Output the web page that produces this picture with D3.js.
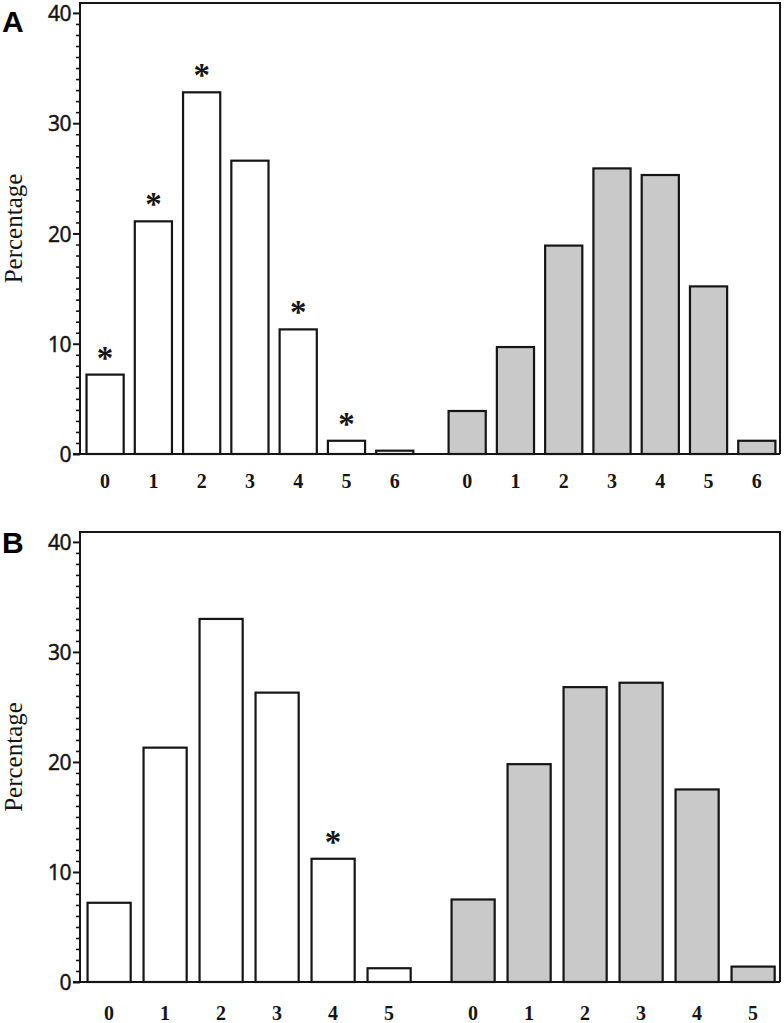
<!DOCTYPE html>
<html>
<head>
<meta charset="utf-8">
<script src="https://cdn.jsdelivr.net/npm/d3@7"></script>
<style>
  html, body { margin: 0; padding: 0; background: #fff; }
  svg { display: block; }
</style>
</head>
<body>
<svg id="chart" width="784" height="1023"></svg>
<script>
// ---------- DATA ----------
const categoriesA = ["0", "1", "2", "3", "4", "5", "6"];
const whiteA = [7.2, 21.1, 32.8, 26.6, 11.3, 1.2, 0.3];
const grayA  = [3.9, 9.7, 18.9, 25.9, 25.3, 15.2, 1.2];
const starsA = [true, true, true, false, true, true, false];

const categoriesB = ["0", "1", "2", "3", "4", "5"];
const whiteB = [7.2, 21.3, 33.0, 26.3, 11.2, 1.25];
const grayB  = [7.5, 19.8, 26.8, 27.2, 17.5, 1.4];
const starsB = [false, false, false, false, true, false];

const yMajorTicks = [0, 10, 20, 30, 40];
const yLabel = "Percentage";
const panelLetters = ["A", "B"];

// ---------- DRAW ----------
const svg = d3.select("#chart");
const INK = "#151515";

function panel(cfg) {
  const { cats, white, gray, stars, letter, top, bottom, labelBaseline, letterY } = cfg;
  const left = 80, right = 780;
  const n = cats.length;
  const g = svg.append("g");

  const x = d3.scaleLinear().domain([-0.52, 2 * n - 0.02]).range([left, right]);
  const y = d3.scaleLinear().domain([0, 40.9]).range([bottom, top]);
  const step = x(1) - x(0);
  const bw = step * 0.77;

  const rows = [];
  white.forEach((v, i) => rows.push({ pos: i, v, fill: "#ffffff", cat: cats[i], star: stars[i] }));
  gray.forEach((v, i) => rows.push({ pos: n + 0.5 + i, v, fill: "#c9c9c9", cat: cats[i], star: false }));

  // bars
  g.selectAll("rect.bar").data(rows).join("rect")
    .attr("class", "bar")
    .attr("x", d => x(d.pos) - bw / 2)
    .attr("y", d => y(d.v))
    .attr("width", bw)
    .attr("height", d => y(0) - y(d.v))
    .attr("fill", d => d.fill)
    .attr("stroke", INK)
    .attr("stroke-width", 2.2);

  // asterisks
  g.selectAll("text.star").data(rows.filter(d => d.star)).join("text")
    .attr("class", "star")
    .attr("x", d => x(d.pos))
    .attr("y", d => y(d.v) - 6)
    .attr("text-anchor", "middle")
    .attr("font-family", "Liberation Serif, serif")
    .attr("font-weight", "bold")
    .attr("font-size", 33)
    .attr("fill", INK)
    .text("*");

  // minor y ticks
  const minor = d3.range(0, 41).filter(v => !yMajorTicks.includes(v));
  const minorAxis = d3.axisLeft(y).tickValues(minor).tickSize(4).tickFormat("");
  const ma = g.append("g").attr("transform", `translate(${left},0)`).call(minorAxis);
  ma.select(".domain").remove();
  ma.selectAll("line").attr("stroke", INK).attr("stroke-width", 1.6);

  // major y ticks
  const majorAxis = d3.axisLeft(y).tickValues(yMajorTicks).tickSize(7).tickPadding(2);
  const mj = g.append("g").attr("transform", `translate(${left},0)`).call(majorAxis);
  mj.select(".domain").remove();
  mj.selectAll("line").attr("stroke", INK).attr("stroke-width", 2);
  mj.selectAll("text")
    .attr("font-family", "Noto Sans, sans-serif")
    .attr("font-size", 21)
    .attr("letter-spacing", -0.5)
    .attr("fill", INK)
    .attr("stroke", INK)
    .attr("stroke-width", 0.4)
    .attr("dy", "0.36em");

  // frame: left, top, right, bottom
  const yTop = y(40.9);
  g.append("path")
    .attr("d", `M${left},${y(0)} L${left},${yTop} L${right},${yTop} L${right},${y(0)}`)
    .attr("fill", "none").attr("stroke", INK).attr("stroke-width", 2);
  g.append("line")
    .attr("x1", left - 7).attr("x2", right)
    .attr("y1", y(0)).attr("y2", y(0))
    .attr("stroke", INK).attr("stroke-width", 2.2);

  // x labels
  g.selectAll("text.xl").data(rows).join("text")
    .attr("class", "xl")
    .attr("x", d => x(d.pos))
    .attr("y", labelBaseline)
    .attr("text-anchor", "middle")
    .attr("font-family", "Liberation Serif, serif")
    .attr("font-weight", "bold")
    .attr("font-size", 20)
    .attr("fill", INK)
    .text(d => d.cat);

  // y label
  const cy = (bottom + yTop) / 2;
  g.append("text")
    .attr("transform", `translate(22,${cy}) rotate(-90)`)
    .attr("text-anchor", "middle")
    .attr("font-family", "Liberation Serif, serif")
    .attr("font-size", 25)
    .attr("fill", INK)
    .text(yLabel);

  // panel letter
  g.append("text")
    .attr("x", 2).attr("y", letterY)
    .attr("font-family", "Liberation Sans, Arial, sans-serif")
    .attr("font-weight", "bold")
    .attr("font-size", 30)
    .attr("fill", "#000")
    .text(letter);
}

panel({ cats: categoriesA, white: whiteA, gray: grayA, stars: starsA, letter: panelLetters[0],
        top: 3, bottom: 454, labelBaseline: 488, letterY: 32 });
panel({ cats: categoriesB, white: whiteB, gray: grayB, stars: starsB, letter: panelLetters[1],
        top: 532, bottom: 982, labelBaseline: 1020, letterY: 553 });
</script>
</body>
</html>
